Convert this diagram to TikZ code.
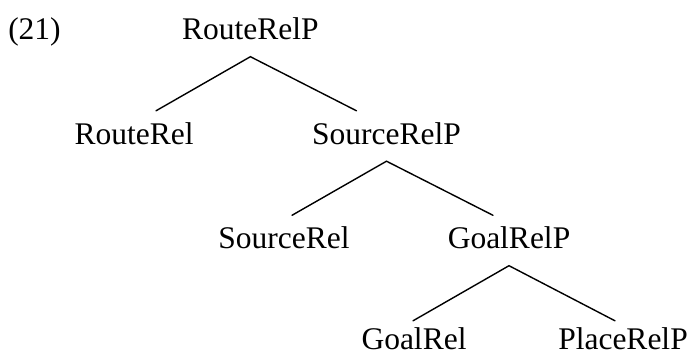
\documentclass[tikz,border=0pt]{standalone}
\usepackage{fontspec}
\setmainfont{Liberation Serif}
\begin{document}
\begin{tikzpicture}[x=1pt,y=-1pt,
  cat/.style={anchor=base, font=\fontsize{31.5}{36}\selectfont,
    text height=23pt, text depth=7pt, inner xsep=0pt, inner ysep=10pt},
  branch/.style={line width=1.4pt, line cap=round}]
\useasboundingbox (0,0) rectangle (698,356);

% example number
\node[cat] (ex) at (34.5,39.5) {(21)};

% tree nodes
\node[cat] (rrp) at (250.4,39.5) {RouteRelP};
\node[cat] (rr)  at (134,144)    {RouteRel};
\node[cat] (srp) at (386.5,144)  {SourceRelP};
\node[cat] (sr)  at (284,248.5)  {SourceRel};
\node[cat] (grp) at (509,248.5)  {GoalRelP};
\node[cat] (gr)  at (414,349)    {GoalRel};
\node[cat] (plp) at (623,349)    {PlaceRelP};

% branches
\draw[branch] ([xshift=22pt]rr.north) -- (rrp.south) -- ([xshift=-30pt]srp.north);
\draw[branch] ([xshift=8pt]sr.north) -- (srp.south) -- ([xshift=-16pt]grp.north);
\draw[branch] ([xshift=-1pt,yshift=-5pt]gr.north) -- (grp.south) -- ([xshift=-8pt,yshift=-5pt]plp.north);
\end{tikzpicture}
\end{document}
